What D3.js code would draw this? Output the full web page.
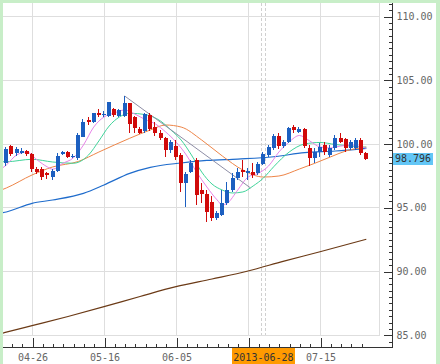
<!DOCTYPE html>
<meta charset="utf-8"/>
<head>
<script src="https://d3js.org/d3.v7.min.js"></script>
<style>
  body { margin: 0; background: #fff; }
  svg { display: block; }
  .lbl { font-family: "DejaVu Sans Mono", monospace; font-size: 10px; fill: #666; }
  .axis path { display: none; }
  .axis line { stroke: #333; shape-rendering: crispEdges; }
  .grid { stroke: #dedede; shape-rendering: crispEdges; }
</style>
</head>
<body>
<div id="chart"></div>
<script>

// daily candles, trading-day index 0 = 04-19 ... 70 = 07-26
var opens  = [98.47,99.80,99.29,99.29,99.44,99.18,97.98,97.98,97.66,97.35,
              97.87,99.18,99.36,98.94,98.84,100.53,101.84,101.71,102.42,102.24,
              102.16,102.68,102.16,102.16,103.15,102.08,101.10,100.98,102.24,101.29,
              100.80,100.41,99.49,99.80,99.10,96.88,97.79,98.71,96.35,96.04,
              95.41,94.13,94.39,95.31,96.35,97.27,97.92,97.66,97.79,97.66,
              98.37,99.10,99.62,100.61,99.83,100.14,101.29,100.90,101.14,99.67,
              98.86,99.33,99.88,99.10,99.62,100.45,100.35,99.62,99.62,100.27,
              99.23];
var highs  = [99.73,99.88,99.73,99.61,99.49,99.28,98.13,98.18,97.79,97.98,
              99.23,99.41,99.44,99.18,100.80,101.92,102.10,102.42,102.68,102.55,
              103.28,102.76,102.68,103.73,103.20,102.16,101.29,102.42,102.39,101.69,
              101.06,100.53,100.27,100.27,99.23,97.79,98.71,98.84,96.90,96.35,
              95.88,94.71,96.35,96.98,97.69,98.08,98.71,98.08,98.47,98.57,
              99.36,99.88,100.72,100.82,100.27,101.32,101.45,101.29,101.24,99.88,
              99.62,100.02,100.09,99.88,100.67,100.80,100.45,100.27,100.43,100.41,
              99.36];
var lows   = [98.24,99.02,99.02,99.18,99.04,97.79,97.61,97.14,97.19,97.14,
              97.79,99.10,98.84,98.86,98.71,100.51,101.45,101.63,102.10,102.08,
              102.10,102.10,102.10,102.10,100.80,100.82,100.75,100.85,100.98,100.59,
              100.27,98.96,99.25,98.71,96.22,95.04,97.69,95.18,95.33,93.87,
              93.92,94.00,94.31,95.18,96.20,97.14,97.40,97.14,97.29,97.53,
              98.31,98.96,99.49,99.57,99.65,100.02,100.82,100.80,99.65,98.24,
              98.45,98.94,99.10,98.96,99.49,100.02,99.36,99.49,99.49,99.10,
              98.71];
var closes = [99.57,99.18,99.53,99.41,99.18,97.98,97.79,97.40,97.51,97.87,
              99.02,99.36,98.96,99.02,100.67,101.69,101.66,102.37,102.21,102.31,
              103.23,102.24,102.63,103.15,101.53,101.19,100.86,102.31,101.14,100.80,
              100.41,99.49,100.14,98.96,96.88,97.58,98.45,95.96,96.04,94.63,
              94.16,94.53,95.31,96.35,97.27,97.79,97.74,97.84,97.53,98.37,
              99.15,99.75,100.61,99.80,100.09,101.19,101.02,101.14,99.80,98.86,
              99.33,99.75,99.36,99.62,100.45,100.14,99.62,100.09,100.27,99.23,
              98.796];

// moving averages: [day index, price]
var maPink = [[-1,98.0],[0,98.31],[2,99.1],[4,99.33],[6,98.71],[8,98.16],[9,97.98],[11,98.45],
              [13,98.86],[15,99.88],[17,101.29],[19,102.08],[21,102.39],[23,102.63],[25,102.31],
              [27,101.88],[29,101.53],[31,100.9],[33,100.12],[35,99.1],[37,97.76],[39,96.59],
              [41,95.57],[42,95.18],[43,95.33],[45,96.35],[47,97.37],[49,97.66],[51,98.24],
              [53,99.33],[55,100.12],[57,100.63],[59,100.2],[61,99.73],[63,99.65],[65,99.8],
              [67,99.88],[70,99.62]];
var maGreen = [[-1,98.57],[0,98.57],[5,98.76],[9,98.55],[13,98.45],[16,99.1],[18,100.2],
               [20,101.37],[22,102.08],[24,102.37],[27,102.27],[30,101.76],[32,101.06],
               [34,100.27],[36,99.1],[38,97.76],[40,96.82],[42,96.35],[44,96.12],[46,96.2],
               [48,96.67],[50,97.29],[52,98.18],[55,99.33],[58,99.96],[61,100.08],[64,99.92],
               [67,99.8],[70,99.7]];
var maOrange = [[-1,96.35],[0,96.51],[5,97.53],[9,98.16],[14,98.59],[18,99.33],[24,100.41],
                [28,101.06],[31,101.45],[34,101.29],[38,100.27],[42,99.02],[46,97.92],
                [50,97.37],[53,97.45],[57,98.0],[60,98.45],[63,98.94],[66,99.41],[70,99.73]];
var maBlue = [[-1,94.55],[0,94.63],[5,95.31],[9,95.57],[15,96.09],[19,96.75],[24,97.66],
              [28,98.13],[34,98.47],[39,98.67],[45,98.78],[52,98.96],[58,99.28],[64,99.41],
              [70,99.62]];
var maBrown = [[-1,85.1],[0,85.2],[5,85.71],[12,86.43],[19,87.2],[26,88.0],[33,88.77],
               [40,89.37],[47,90.0],[54,90.78],[61,91.51],[70,92.49]];
var trendLine = [[23,103.73],[47.5,96.51]];

var tickIdx = [5, 19, 33, 47, 61];
var tickLabels = ["04-26", "05-16", "06-05", "", "07-15"];  // 06-25 sits under the cursor label
var yTicks = [85, 90, 95, 100, 105, 110];
var cursorIdx = 50, cursorLabel = "2013-06-28";
var lastPrice = 98.796;

var W = 440, H = 364;
var plot = { left: 3, top: 3, right: 379, bottom: 335 };
var axisX = 392, axisY = 347;

var x = d3.scaleLinear().domain([0, 70]).range([6.3, 366.3]);
var y = d3.scaleLinear().domain([85, 110]).range([334.75, 16]);

var svg = d3.select("#chart").append("svg")
    .attr("width", W).attr("height", H);

svg.append("rect").attr("width", W).attr("height", H).attr("fill", "#c8eec8");
svg.append("rect").attr("x", 3).attr("y", 3).attr("width", 433).attr("height", H - 3).attr("fill", "#fff");

svg.append("clipPath").attr("id", "clip").append("rect")
    .attr("x", plot.left).attr("y", plot.top)
    .attr("width", plot.right - plot.left).attr("height", plot.bottom - plot.top);

// grid
var grid = svg.append("g");
grid.selectAll(".hg").data(yTicks).enter().append("line")
    .attr("class", "grid")
    .attr("x1", plot.left).attr("x2", plot.right)
    .attr("y1", function(d) { return Math.round(y(d)) + 0.5; })
    .attr("y2", function(d) { return Math.round(y(d)) + 0.5; });
grid.selectAll(".vg").data(tickIdx).enter().append("line")
    .attr("class", "grid")
    .attr("y1", plot.top).attr("y2", plot.bottom)
    .attr("x1", function(d) { return Math.round(x(d)) + 0.5; })
    .attr("x2", function(d) { return Math.round(x(d)) + 0.5; });
grid.append("line").attr("class", "grid")
    .attr("x1", plot.right + 0.5).attr("x2", plot.right + 0.5)
    .attr("y1", plot.top).attr("y2", plot.bottom + 0.5);
grid.append("line").attr("class", "grid")
    .attr("x1", plot.left).attr("x2", plot.right)
    .attr("y1", plot.bottom + 0.5).attr("y2", plot.bottom + 0.5);

// crosshair band
[-2, 2].forEach(function(off) {
  var cx = Math.round(x(cursorIdx)) + off + 0.5;
  grid.append("line")
      .attr("x1", cx).attr("x2", cx).attr("y1", plot.top).attr("y2", plot.bottom)
      .attr("stroke", "#d0d0d0").attr("stroke-dasharray", "3,2")
      .style("shape-rendering", "crispEdges");
});

var g = svg.append("g").attr("clip-path", "url(#clip)");

var line = d3.line()
    .x(function(d) { return x(d[0]); })
    .y(function(d) { return y(d[1]); })
    .curve(d3.curveMonotoneX);

function drawLine(data, color, width) {
  g.append("path").datum(data)
      .attr("d", line)
      .attr("fill", "none")
      .attr("stroke", color)
      .attr("stroke-width", width);
}

drawLine(maBrown, "#6b3a16", 1.2);
drawLine(maBlue, "#1f6ccc", 1.2);
drawLine(maOrange, "#ee8548", 1);
drawLine(maGreen, "#3fd49a", 1);
drawLine(maPink, "#e884e8", 1);

g.append("path").datum(trendLine)
    .attr("d", d3.line().x(function(d) { return x(d[0]); }).y(function(d) { return y(d[1]); }))
    .attr("fill", "none").attr("stroke", "#8e8ea6").attr("stroke-width", 1);

// candles
var idx = d3.range(closes.length);
var candle = g.selectAll(".candle").data(idx).enter().append("g")
    .attr("class", "candle")
    .style("shape-rendering", "crispEdges");

function col(i) { return closes[i] >= opens[i] ? "#1c5fc0" : "#d00a0a"; }

candle.append("line")
    .attr("x1", function(i) { return Math.round(x(i) - 2) + 1.5; })
    .attr("x2", function(i) { return Math.round(x(i) - 2) + 1.5; })
    .attr("y1", function(i) { return y(highs[i]); })
    .attr("y2", function(i) { return y(lows[i]); })
    .attr("stroke", col);

candle.append("rect")
    .attr("x", function(i) { return Math.round(x(i) - 2); })
    .attr("width", 4)
    .attr("y", function(i) { return y(Math.max(opens[i], closes[i])); })
    .attr("height", function(i) { return Math.max(1, Math.abs(y(opens[i]) - y(closes[i]))); })
    .attr("fill", col);

// right price axis
svg.append("line")
    .attr("x1", axisX + 0.5).attr("x2", axisX + 0.5).attr("y1", plot.top).attr("y2", axisY + 0.5)
    .attr("stroke", "#333").style("shape-rendering", "crispEdges");

svg.append("g").attr("class", "axis")
    .attr("transform", "translate(" + (axisX + 0.5) + ",0.5)")
    .call(d3.axisRight(y).tickValues(d3.range(84.5, 111.01, 0.5)).tickSize(-4).tickFormat(""));

var yAxis = svg.append("g").attr("class", "axis")
    .attr("transform", "translate(" + (axisX + 0.5) + ",0.5)")
    .call(d3.axisRight(y).tickValues(yTicks).tickSize(-9).tickPadding(4).tickFormat(d3.format(".2f")));
yAxis.selectAll("text").attr("class", "lbl").attr("fill", null).attr("font-size", null).attr("font-family", null);

// last price box
var ly = y(lastPrice);
svg.append("rect")
    .attr("x", axisX + 1).attr("y", Math.round(ly) - 6)
    .attr("width", 40).attr("height", 12)
    .attr("fill", "#62c6f6");
svg.append("text").attr("class", "lbl")
    .attr("x", axisX + 3).attr("y", ly).attr("dy", "0.35em")
    .style("fill", "#333")
    .text(lastPrice.toFixed(3));

// bottom date axis
svg.append("line")
    .attr("x1", plot.left).attr("x2", axisX).attr("y1", axisY + 0.5).attr("y2", axisY + 0.5)
    .attr("stroke", "#333").style("shape-rendering", "crispEdges");

svg.append("g").attr("class", "axis")
    .attr("transform", "translate(0.5," + (axisY + 0.5) + ")")
    .call(d3.axisBottom(x).tickValues(d3.range(1, 71, 2)).tickSize(-4).tickFormat(""));

var xAxis = svg.append("g").attr("class", "axis")
    .attr("transform", "translate(0.5," + (axisY + 0.5) + ")")
    .call(d3.axisBottom(x).tickValues(tickIdx).tickSize(-10).tickPadding(6)
      .tickFormat(function(d) { return tickLabels[tickIdx.indexOf(d)]; }));
xAxis.selectAll("text").attr("class", "lbl").attr("fill", null).attr("font-size", null).attr("font-family", null);

// cursor date label
var cx = x(cursorIdx);
svg.append("rect")
    .attr("x", Math.round(cx) - 31).attr("y", axisY + 1)
    .attr("width", 63).attr("height", H - axisY - 1)
    .attr("fill", "#ff9a00");
svg.append("text").attr("class", "lbl")
    .attr("x", cx).attr("y", axisY + 7).attr("dy", "0.71em")
    .attr("text-anchor", "middle")
    .style("fill", "#333")
    .text(cursorLabel);

</script>
</body>
